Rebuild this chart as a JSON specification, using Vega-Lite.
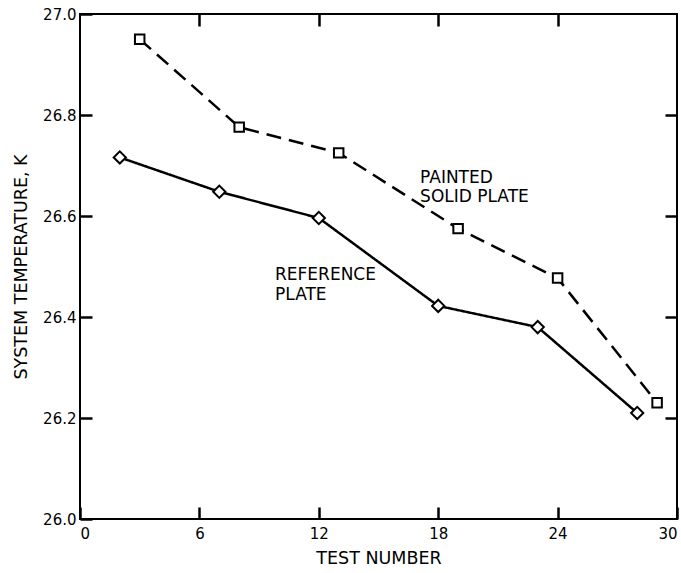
{
  "$schema": "https://vega.github.io/schema/vega-lite/v6.json",
  "width": 597,
  "height": 505,
  "autosize": {"type": "none"},
  "padding": {"left": 80, "top": 14, "right": 4, "bottom": 54},
  "background": "white",
  "config": {
    "view": {"stroke": "#000", "strokeWidth": 2},
    "axis": {
      "grid": false,
      "domain": false,
      "labelFont": "DejaVu Sans",
      "labelFontSize": 15,
      "labelColor": "#000",
      "titleFont": "DejaVu Sans",
      "titleFontSize": 17.5,
      "titleFontWeight": "normal",
      "titleColor": "#000"
    }
  },
  "data": {
    "values": [
      {"series": "Painted solid plate", "test": 3, "temp": 26.95},
      {"series": "Painted solid plate", "test": 8, "temp": 26.776},
      {"series": "Painted solid plate", "test": 13, "temp": 26.725},
      {"series": "Painted solid plate", "test": 19, "temp": 26.575},
      {"series": "Painted solid plate", "test": 24, "temp": 26.477},
      {"series": "Painted solid plate", "test": 29, "temp": 26.23},
      {"series": "Reference plate", "test": 2, "temp": 26.716},
      {"series": "Reference plate", "test": 7, "temp": 26.648},
      {"series": "Reference plate", "test": 12, "temp": 26.596},
      {"series": "Reference plate", "test": 18, "temp": 26.422},
      {"series": "Reference plate", "test": 23, "temp": 26.38},
      {"series": "Reference plate", "test": 28, "temp": 26.21}
    ]
  },
  "resolve": {"axis": {"x": "independent", "y": "independent"}},
  "layer": [
    {
      "mark": {"type": "line", "color": "#000", "strokeWidth": 2.5},
      "encoding": {
        "x": {
          "field": "test", "type": "quantitative",
          "scale": {"domain": [0, 30], "nice": false, "zero": false},
          "axis": {"values": [0, 6, 12, 18, 24, 30], "title": "TEST NUMBER", "tickSize": 12, "tickWidth": 2.5, "tickColor": "#000", "offset": -12, "zindex": 2, "labelPadding": 7, "titlePadding": 8, "labelFlush": true}
        },
        "y": {
          "field": "temp", "type": "quantitative",
          "scale": {"domain": [26, 27], "nice": false, "zero": false},
          "axis": {"values": [26, 26.2, 26.4, 26.6, 26.8, 27], "format": ".1f", "title": "SYSTEM TEMPERATURE, K", "tickSize": 12, "tickWidth": 2.5, "tickColor": "#000", "offset": -12, "zindex": 2, "labelPadding": 4, "titlePadding": 12, "labelFlush": false}
        },
        "strokeDash": {
          "field": "series", "type": "nominal",
          "scale": {"domain": ["Painted solid plate", "Reference plate"], "range": [[15, 8], [1, 0]]},
          "legend": null
        }
      }
    },
    {
      "mark": {"type": "point", "filled": true, "fill": "white", "stroke": "#000", "strokeWidth": 2, "opacity": 1},
      "encoding": {
        "x": {
          "field": "test", "type": "quantitative",
          "axis": {"orient": "top", "values": [6, 12, 18, 24], "labels": false, "title": null, "tickSize": -12, "tickWidth": 2.5, "tickColor": "#000", "zindex": 2}
        },
        "y": {
          "field": "temp", "type": "quantitative",
          "axis": {"orient": "right", "values": [26.2, 26.4, 26.6, 26.8], "labels": false, "title": null, "tickSize": -12, "tickWidth": 2.5, "tickColor": "#000", "zindex": 2}
        },
        "shape": {
          "field": "series", "type": "nominal",
          "scale": {"domain": ["Painted solid plate", "Reference plate"], "range": ["square", "diamond"]},
          "legend": null
        },
        "size": {
          "field": "series", "type": "nominal",
          "scale": {"domain": ["Painted solid plate", "Reference plate"], "range": [90, 150]},
          "legend": null
        }
      }
    },
    {
      "data": {"values": [{}]},
      "mark": {"type": "text", "text": ["PAINTED", "SOLID PLATE"], "align": "left", "baseline": "alphabetic", "font": "DejaVu Sans", "fontSize": 17, "lineHeight": 18.5, "color": "#000"},
      "encoding": {
        "x": {"datum": 17.09, "type": "quantitative", "axis": null},
        "y": {"datum": 26.665, "type": "quantitative", "axis": null}
      }
    },
    {
      "data": {"values": [{}]},
      "mark": {"type": "text", "text": ["REFERENCE", "PLATE"], "align": "left", "baseline": "alphabetic", "font": "DejaVu Sans", "fontSize": 17, "lineHeight": 19.5, "color": "#000"},
      "encoding": {
        "x": {"datum": 9.8, "type": "quantitative", "axis": null},
        "y": {"datum": 26.473, "type": "quantitative", "axis": null}
      }
    }
  ]
}
